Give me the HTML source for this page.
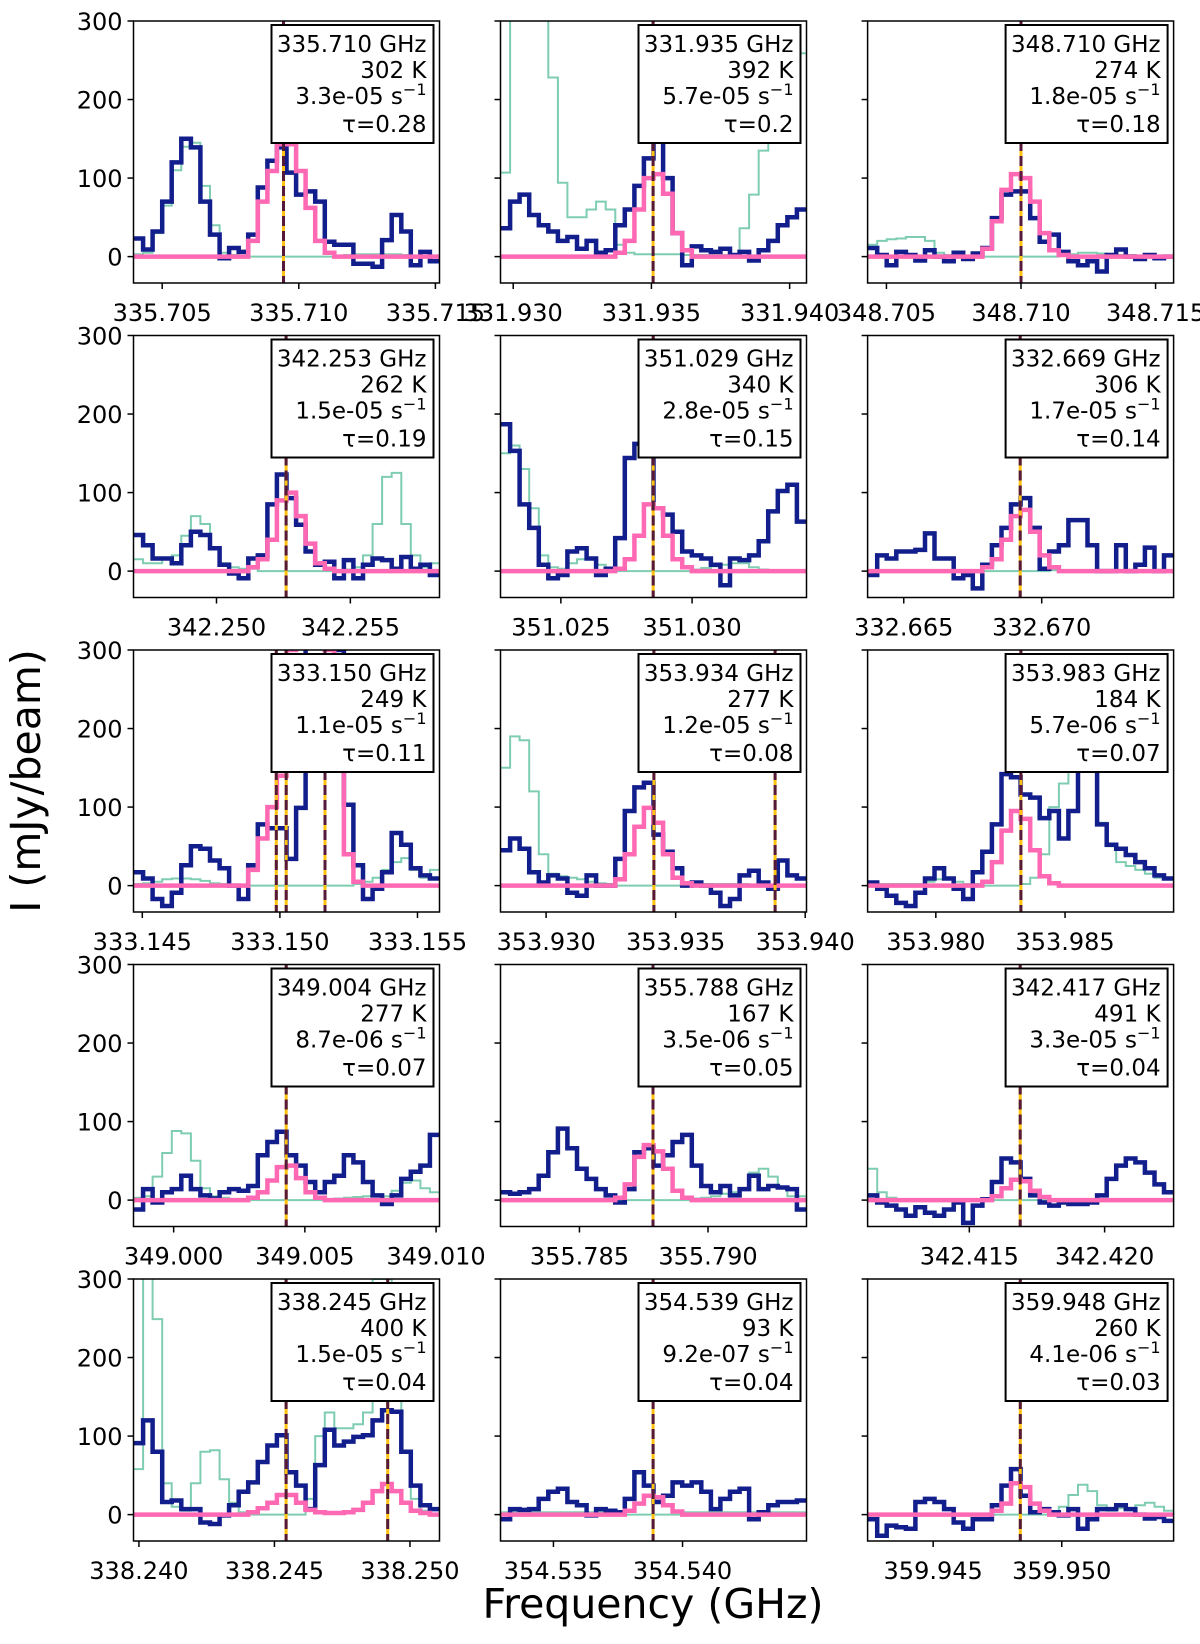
<!DOCTYPE html>
<html><head><meta charset="utf-8"><style>
html,body{margin:0;padding:0;background:#fff;}
svg{display:block;font-family:"DejaVu Sans","Liberation Sans",sans-serif;}
</style></head><body>
<svg id="chart" width="1200" height="1644" viewBox="0 0 1200 1644" xmlns="http://www.w3.org/2000/svg">
<rect x="0" y="0" width="1200" height="1644" fill="#fff"/>
<text x="653" y="1618" text-anchor="middle" font-size="41" fill="#000">Frequency (GHz)</text>
<text transform="translate(40,781) rotate(-90)" text-anchor="middle" font-size="41" fill="#000">I (mJy/beam)</text>
</svg>
<script>
const xDomains = [[335.70395,335.71515],[331.92954,331.94061],[348.7043,348.71567],
[342.2469,342.25833],[351.0227,351.03436],[332.66369,332.67478],
[333.14468,333.1558],[353.92824,353.94005],[353.97736,353.9892],
[348.99847,349.01013],[355.78193,355.79383],[342.41124,342.42255],
[338.2398,338.25109],[354.53295,354.5448],[359.94245,359.95435]];
const xTicks = [[335.705,335.710,335.715],[331.930,331.935,331.940],[348.705,348.710,348.715],
[342.250,342.255],[351.025,351.030],[332.665,332.670],
[333.145,333.150,333.155],[353.930,353.935,353.940],[353.980,353.985],
[349.000,349.005,349.010],[355.785,355.790],[342.415,342.420],
[338.240,338.245,338.250],[354.535,354.540],[359.945,359.950]];
const yTicks = [0,100,200,300];
const lineFreqs = [[335.70944],[331.93506],[348.710],[342.2526],[351.02852],[332.66922],
[333.14987,333.15023,333.15164],[353.93416,353.93884],[353.98329],[349.00429],[355.78786],[342.41688],
[338.24543,338.24918],[354.53886],[359.94839]];
const legendFreq = ["335.710 GHz","331.935 GHz","348.710 GHz","342.253 GHz","351.029 GHz","332.669 GHz","333.150 GHz","353.934 GHz","353.983 GHz","349.004 GHz","355.788 GHz","342.417 GHz","338.245 GHz","354.539 GHz","359.948 GHz"];
const legendTemp = ["302 K","392 K","274 K","262 K","340 K","306 K","249 K","277 K","184 K","277 K","167 K","491 K","400 K","93 K","260 K"];
const legendAij = ["3.3e-05","5.7e-05","1.8e-05","1.5e-05","2.8e-05","1.7e-05","1.1e-05","1.2e-05","5.7e-06","8.7e-06","3.5e-06","3.3e-05","1.5e-05","9.2e-07","4.1e-06"];
const legendTau = ["τ=0.28","τ=0.2","τ=0.18","τ=0.19","τ=0.15","τ=0.14","τ=0.11","τ=0.08","τ=0.07","τ=0.07","τ=0.05","τ=0.04","τ=0.04","τ=0.04","τ=0.03"];

const obs1 = [23,9,32,70,120,150,139,70,28,-2,11,6,28,88,122,139,107,79,83,70,19,15,15,-9,-9,-13,21,53,32,-11,6,-6];
const obs2 = [36,70,79,53,40,32,20,25,10,20,5,8,40,60,90,125,147,100,30,-11,13,8,6,10,2,6,-5,8,20,40,50,60];
const obs3 = [11,2,-11,6,2,-5,8,0,-6,5,-3,4,11,49,79,83,83,49,19,28,6,-6,-11,-6,-19,2,9,0,-3,2,-2,0];
const obs4 = [46,33,16,16,10,33,50,46,29,8,-3,-9,16,20,85,123,93,59,25,8,12,-9,14,-9,8,16,14,3,18,3,8,-5];
const obs5 = [187,153,85,55,8,-9,-5,25,29,16,-5,3,42,144,162,153,80,72,50,25,20,16,8,-18,16,14,20,38,76,102,110,63];
const obs6 = [-5,20,16,25,25,27,48,16,16,-9,-5,-22,8,33,55,85,93,55,3,25,33,65,65,33,0,0,33,0,8,30,0,20];
const obs7 = [17,9,-17,-26,-9,26,50,47,32,22,0,-17,26,78,73,73,34,99,330,330,330,300,103,26,-17,-4,17,67,52,22,13,9];
const obs8 = [45,60,47,17,4,13,9,-9,-13,13,0,0,34,95,125,131,65,43,22,0,4,0,-9,-26,-17,13,19,4,-4,32,13,9];
const obs9 = [4,-4,-13,-22,-26,-9,9,22,9,-4,-17,17,43,78,142,138,116,112,86,95,60,95,164,190,78,52,47,39,30,22,13,9];
const obs10 = [-12,14,-3,10,14,31,14,6,2,10,14,12,18,57,74,87,57,44,23,10,23,31,57,48,23,6,-5,6,27,36,44,83];
const obs11 = [10,8,10,14,31,61,91,66,40,27,14,6,-3,14,61,66,44,57,74,83,44,18,10,18,6,14,31,14,18,16,14,-12];
const obs12 = [6,-3,-7,-12,-20,-9,-16,-20,-12,-3,-29,-7,1,23,53,48,27,6,-3,-7,-3,-5,-5,-3,6,27,44,53,48,35,20,10];
const obs13 = [91,120,80,16,18,7,7,-10,-12,-1,12,29,41,67,88,101,54,37,7,63,108,88,93,99,101,120,133,131,80,37,12,7];
const obs14 = [-6,7,6,7,20,29,33,16,12,-1,7,5,3,20,54,37,16,24,41,37,41,29,7,20,29,33,-6,3,12,16,16,18];
const obs15 = [-6,-27,-14,-16,-18,16,20,16,7,-10,-18,-6,-6,12,37,58,24,3,7,3,-1,7,-18,-6,7,7,12,7,0,-5,-3,-8];

const model1 = [3,5,30,65,110,140,145,90,40,5,2,1,0,0,0,0,0,0,0,0,0,1,2,3,3,3,3,3,2,1,1,1];
const model2 = [107,400,400,400,400,228,94,50,50,60,70,60,15,5,3,3,3,3,3,2,2,2,2,2,2,36,79,135,156,200,259,259];
const model3 = [15,20,22,23,25,25,20,5,2,1,0,0,0,0,0,0,0,0,0,0,2,3,5,5,4,3,2,2,1,1,1,1];
const model4 = [15,10,10,15,20,45,70,60,30,10,5,3,3,0,0,0,0,0,0,0,0,0,2,5,20,60,120,125,60,20,5,10];
const model5 = [150,160,130,80,20,5,3,10,15,15,8,3,0,0,0,0,0,0,0,0,2,4,6,8,10,10,5,2,1,0,0,0];
const model6 = [1,1,1,1,1,1,1,1,1,1,1,1,0,0,0,0,0,0,0,1,1,1,1,1,1,1,1,1,1,1,1,1];
const model7 = [2,3,5,8,9,9,8,6,3,2,1,0,0,0,0,0,0,0,0,0,0,0,0,2,5,10,20,30,35,20,10,20];
const model8 = [150,190,185,120,40,15,12,10,8,5,3,2,0,0,0,0,0,0,0,2,2,2,2,2,2,2,1,1,1,1,1,1];
const model9 = [2,2,2,2,2,2,5,8,10,5,2,2,0,0,0,0,2,10,40,100,130,180,210,150,80,50,30,25,20,15,10,8];
const model10 = [3,5,30,60,88,85,50,15,5,3,1,0,0,0,0,0,0,0,0,0,1,2,3,4,5,5,5,12,22,25,15,10];
const model11 = [1,1,1,1,1,1,1,1,1,1,1,1,0,0,0,0,0,0,0,0,2,3,5,8,10,15,35,40,30,15,5,5];
const model12 = [40,10,3,1,1,1,1,1,1,1,1,1,0,0,0,0,0,0,0,1,1,1,1,1,1,1,1,1,1,1,1,1];
const model13 = [58,400,249,40,10,5,40,80,82,45,15,3,0,0,0,0,0,0,20,100,130,110,110,115,130,300,300,150,80,20,5,0];
const model14 = [3,3,3,3,3,3,3,3,3,3,3,3,0,0,0,0,0,0,0,3,3,3,3,3,3,3,3,3,3,3,3,3];
const model15 = [1,1,1,1,1,1,1,1,1,1,1,1,0,0,0,0,0,0,0,2,10,25,38,30,12,5,8,8,12,15,10,5];

const fit1 = [0,0,0,0,0,0,0,0,0,0,0,0,20,70,109,143,143,109,62,20,5,0,0,0,0,0,0,0,0,0,0,0];
const fit2 = [0,0,0,0,0,0,0,0,0,0,0,0,5,20,60,100,105,80,30,8,0,0,0,0,0,0,0,0,0,0,0,0];
const fit3 = [0,0,0,0,0,0,0,0,0,0,0,0,10,45,85,105,100,70,30,8,2,0,0,0,0,0,0,0,0,0,0,0];
const fit4 = [0,0,0,0,0,0,0,0,0,0,0,0,5,15,40,90,100,70,35,10,3,0,0,0,0,0,0,0,0,0,0,0];
const fit5 = [0,0,0,0,0,0,0,0,0,0,0,0,3,15,45,85,80,45,15,5,0,0,0,0,0,0,0,0,0,0,0,0];
const fit6 = [0,0,0,0,0,0,0,0,0,0,0,0,5,15,40,70,78,50,20,5,0,0,0,0,0,0,0,0,0,0,0,0];
const fit7 = [0,0,0,0,0,0,0,0,0,0,0,0,20,60,100,140,300,340,340,340,300,150,40,5,0,0,0,0,0,0,0,0];
const fit8 = [0,0,0,0,0,0,0,0,0,0,0,0,8,40,75,99,80,40,10,3,0,0,0,0,0,0,0,0,0,0,0,0];
const fit9 = [0,0,0,0,0,0,0,0,0,0,0,0,5,30,70,95,85,45,12,3,0,0,0,0,0,0,0,0,0,0,0,0];
const fit10 = [0,0,0,0,0,0,0,0,0,0,0,0,3,10,25,42,44,28,10,3,0,0,0,0,0,0,0,0,0,0,0,0];
const fit11 = [0,0,0,0,0,0,0,0,0,0,0,0,3,20,55,70,62,40,12,3,0,0,0,0,0,0,0,0,0,0,0,0];
const fit12 = [0,0,0,0,0,0,0,0,0,0,0,0,0,5,15,26,24,12,4,0,0,0,0,0,0,0,0,0,0,0,0,0];
const fit13 = [0,0,0,0,0,0,0,0,0,0,0,0,3,8,15,25,25,15,6,3,2,2,3,6,15,30,39,30,15,5,2,0];
const fit14 = [0,0,0,0,0,0,0,0,0,0,0,0,0,5,14,24,22,12,4,0,0,0,0,0,0,0,0,0,0,0,0,0];
const fit15 = [0,0,0,0,0,0,0,0,0,0,0,0,0,5,14,40,35,14,5,0,0,0,0,0,0,0,0,0,0,0,0,0];

const obsSeries = [obs1,obs2,obs3,obs4,obs5,obs6,obs7,obs8,obs9,obs10,obs11,obs12,obs13,obs14,obs15];
const modelSeries = [model1,model2,model3,model4,model5,model6,model7,model8,model9,model10,model11,model12,model13,model14,model15];
const fitSeries = [fit1,fit2,fit3,fit4,fit5,fit6,fit7,fit8,fit9,fit10,fit11,fit12,fit13,fit14,fit15];

const NS = "http://www.w3.org/2000/svg";
const svg = document.getElementById("chart");
const colLeft = [133.5,500.5,867.6], rowTop = [21,335.5,650,964.5,1279];
const PW = 306, PH = 262, YMIN = -33.6, YMAX = 300;
function mk(tag, attrs, parent){ const e = document.createElementNS(NS, tag); for (const k in attrs) e.setAttribute(k, attrs[k]); (parent||svg).appendChild(e); return e; }

const defs = mk("defs", {});
for (let p = 0; p < 15; p++) {
  const col = p % 3, row = Math.floor(p / 3);
  const L = colLeft[col], T = rowTop[row];
  const [x0, x1] = xDomains[p];
  const xs = f => L + (f - x0) / (x1 - x0) * PW;
  const ys = v => T + (YMAX - v) / (YMAX - YMIN) * PH;
  const cp = mk("clipPath", {id: "clip" + p}, defs);
  mk("rect", {x: L, y: T, width: PW, height: PH}, cp);
  const g = mk("g", {});
  
  
  const pg = mk("g", {"clip-path": "url(#clip" + p + ")"}, g);
  function stepPath(arr) {
    const n = arr.length, w = (x1 - x0) / n;
    let d = "M" + xs(x0).toFixed(1) + "," + ys(arr[0]).toFixed(1);
    for (let k = 0; k < n; k++) {
      d += " H" + xs(x0 + (k + 1) * w).toFixed(1);
      if (k + 1 < n) d += " V" + ys(arr[k + 1]).toFixed(1);
    }
    return d;
  }
  const m = mk("path", {d: stepPath(modelSeries[p]), fill: "none", stroke: "#7fcdb0", "stroke-width": 2}, pg);
  
  
  const o = mk("path", {d: stepPath(obsSeries[p]), fill: "none", stroke: "#121e8c", "stroke-width": 4.5, "stroke-linejoin": "miter"}, pg);
  
  
  const f = mk("path", {d: stepPath(fitSeries[p]), fill: "none", stroke: "#ff69b4", "stroke-width": 4.5}, pg);
  
  
  lineFreqs[p].forEach(lf => {
    const x = xs(lf).toFixed(1);
    const a = mk("line", {x1: x, x2: x, y1: T, y2: T + PH, stroke: "#ffc20e", "stroke-width": 3}, pg);
    
    
    mk("line", {x1: x, x2: x, y1: T, y2: T + PH, stroke: "#55193a", "stroke-width": 3, "stroke-dasharray": "10,5"}, pg);
  });
  const fr = mk("rect", {x: L, y: T, width: PW, height: PH, fill: "none", stroke: "#000", "stroke-width": 1.5}, g);
  
  
  yTicks.forEach(v => {
    const y = ys(v);
    mk("line", {x1: L - 6, x2: L, y1: y, y2: y, stroke: "#000", "stroke-width": 1.5}, g);
    if (col === 0) {
      const t = mk("text", {x: L - 11, y: y + 9, "text-anchor": "end", "font-size": 24, fill: "#000"}, g);
      t.textContent = String(v);
      
      
    }
  });
  xTicks[p].forEach(v => {
    const x = xs(v);
    mk("line", {x1: x, x2: x, y1: T + PH, y2: T + PH + 6, stroke: "#000", "stroke-width": 1.5}, g);
    const t = mk("text", {x: x, y: T + PH + 38, "text-anchor": "middle", "font-size": 24, fill: "#000"}, g);
    t.textContent = v.toFixed(3);
    
    
  });
  const bx = L + PW - 168, by = T + 4;
  const lg = mk("g", {}, g);
  
  
  mk("rect", {x: bx, y: by, width: 162, height: 118, fill: "#fff", stroke: "#000", "stroke-width": 2}, lg);
  const rx = bx + 155;
  const lines = [legendFreq[p], legendTemp[p], null, legendTau[p]];
  const base = [by + 27, by + 53, by + 79, by + 107];
  lines.forEach((s, i) => {
    const t = mk("text", {x: rx, y: base[i], "text-anchor": "end", "font-size": 23, fill: "#000"}, lg);
    if (s !== null) { t.textContent = s; }
    else {
      t.textContent = legendAij[p] + " s";
      const sp = mk("tspan", {dy: -9, "font-size": 16}, t);
      sp.textContent = "\u22121";
    }
    
    
  });
}
</script>
</body></html>
